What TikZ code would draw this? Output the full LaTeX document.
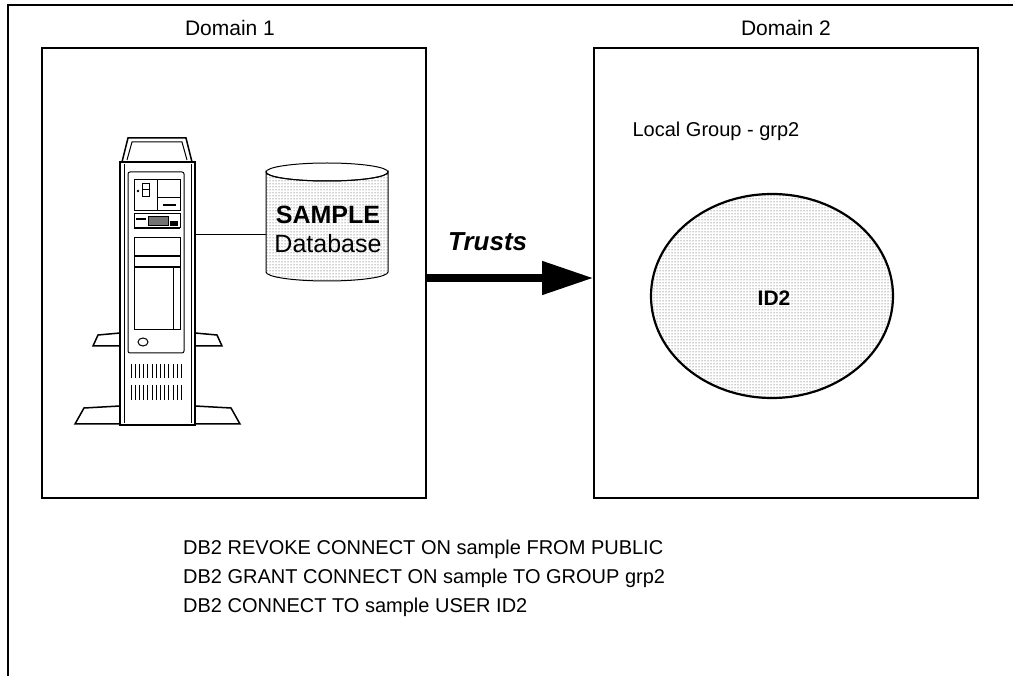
\documentclass[tikz,border=0pt]{standalone}
\usepackage{fontspec}
\setmainfont{Liberation Sans}
\usetikzlibrary{arrows.meta,patterns}
\begin{document}
\begin{tikzpicture}[x=1pt,y=-1pt,
  frameline/.style={line width=1.6pt},
  domainbox/.style={draw,line width=1.6pt,minimum width=384pt,minimum height=450pt,inner sep=0pt},
  label/.style={font=\fontsize{21}{24}\selectfont},
  cmdline/.style={anchor=west,inner sep=0pt,font=\fontsize{20}{23}\selectfont},
  screen/.style={pattern=dots,pattern color=black!80},
  part/.style={line width=1pt},
  heavy/.style={line width=1.5pt}]
\useasboundingbox (0,0) rectangle (1013,676);

% outer frame (top and left sides only)
\draw[frameline] (8,676) -- (8,5) -- (1013,5);

% the two domains
\node[domainbox] (d1) at (234,273) {};
\node[domainbox] (d2) at (786,273) {};
\node[label] (d1lbl) at (230,28) {Domain 1};
\node[label] (d2lbl) at (786,28) {Domain 2};

% ---- server tower ----
% top cap
\draw[heavy] (122,162) -- (128,138) -- (186,138) -- (192,162);
\draw[part] (127,160) -- (132,142) -- (182,142) -- (187,160);
% cabinet
\draw[heavy] (120,162) rectangle (195,425);
\draw[part] (124,164) -- (124,423);
\draw[part] (191,164) -- (191,423);
% front panel
\draw[part,rounded corners=2pt] (128,172) rectangle (184,353);
% upper section: switch and display
\draw[part] (134,180) rectangle (180,211);
\draw[part] (157,180) -- (157,211);
\draw[part] (157,198) -- (180,198);
\draw[line width=1.5pt] (163,205) -- (176,205);
\draw[part] (142,184) rectangle (149,197);
\draw[part] (142,190) -- (149,190);
\fill (138,191) circle (1.3);
% drive bay
\draw[part] (134,214) rectangle (180,228);
\fill (136,218) rectangle (146,220);
\draw[part,fill=black!55] (148,217) rectangle (168,226);
\fill (170,221) rectangle (178,226);
\draw[heavy] (134,228) -- (180,228);
% empty bays
\draw[part] (134,238) rectangle (180,256);
\draw[heavy] (134,256) -- (180,256);
\draw[part] (134,256) rectangle (180,267);
% lower door
\draw[part] (134,268) rectangle (180,330);
\draw[part] (173,268) -- (173,330);
% lock
\draw[part] (143,342) ellipse (5 and 4);
% vents
\foreach \i in {0,...,12} {
  \draw[part] (131+4.2*\i,364) -- (131+4.2*\i,378);
  \draw[part] (131+4.2*\i,385) -- (131+4.2*\i,400);
}
% feet
\draw[heavy] (120,333) -- (98,335) -- (93,346) -- (120,346);
\draw[heavy] (195,333) -- (217,335) -- (222,346) -- (195,346);
\draw[heavy] (120,406) -- (84,408) -- (75,424) -- (120,424);
\draw[heavy] (195,406) -- (231,408) -- (240,424) -- (195,424);
\coordinate (srv) at (195,235);

% ---- SAMPLE database ----
\draw[part,screen] (266,172) -- (266,272)
   arc[start angle=180,end angle=0,x radius=61,y radius=9]
   -- (388,172)
   arc[start angle=0,end angle=180,x radius=61,y radius=9] -- cycle;
\draw[part] (327,172) ellipse (61 and 9);
\node[inner sep=0pt,align=center,font=\fontsize{25}{29}\selectfont] (db) at (328,229)
  {\textbf{SAMPLE}\\Database};
\coordinate (dbw) at (266,235);
\draw[part] (srv) -- (dbw);

% ---- trust relation ----
\coordinate (tr) at (0,278);
\draw[line width=7.5pt,-{Triangle[length=51pt,width=32pt]}] (d1.east |- tr) -- (d2.west |- tr);
\node[anchor=base west,inner sep=0pt,font=\fontsize{26}{30}\selectfont\bfseries\itshape] (trusts) at (448,251) {Trusts};

% ---- local group ----
\node[label,font=\fontsize{20}{23}\selectfont] (grp) at (716,131) {Local Group - grp2};
\draw[line width=2.2pt,screen] (772,296) ellipse (121 and 102);
\node[font=\fontsize{21}{24}\selectfont\bfseries] (id2) at (774,298) {ID2};

% ---- commands ----
\node[cmdline] (c1) at (183,549) {DB2 REVOKE CONNECT ON sample FROM PUBLIC};
\node[cmdline] (c2) at (183,578) {DB2 GRANT CONNECT ON sample TO GROUP grp2};
\node[cmdline] (c3) at (183,607) {DB2 CONNECT TO sample USER ID2};
\end{tikzpicture}
\end{document}
